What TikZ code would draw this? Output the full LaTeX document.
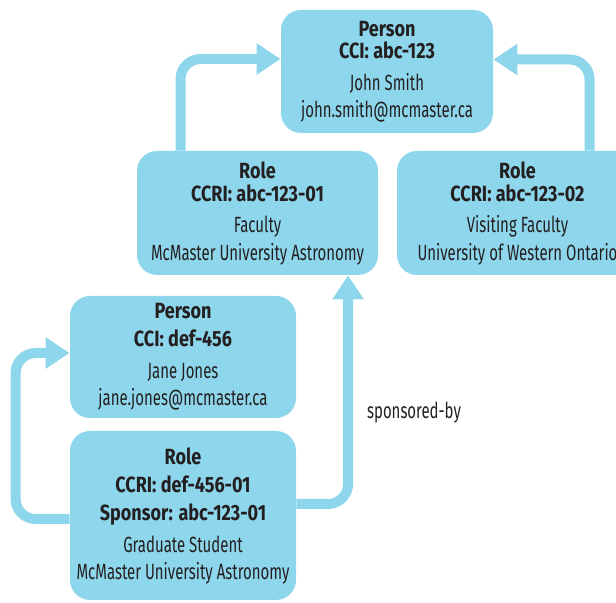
\documentclass[tikz,border=0pt]{standalone}
\usepackage{fontspec}
\setmainfont{Fira Sans}[UprightFeatures={FakeStretch=0.68},BoldFeatures={FakeStretch=0.82}]
\usepackage{tikz}
\usetikzlibrary{arrows.meta}
\definecolor{boxblue}{RGB}{142,214,235}
\definecolor{ink}{RGB}{35,31,32}

\tikzset{
  entity/.style={rectangle,rounded corners=10pt,fill=boxblue,text=ink,align=center,
    inner sep=0pt,font=\fontsize{11}{13.5}\selectfont},
  link/.style={line width=5pt,draw=boxblue,rounded corners=10pt,
    -{Triangle[width=15pt,length=12pt]}}
}

\begin{document}
\begin{tikzpicture}[x=0.5pt,y=-0.5pt]
  \useasboundingbox (0,0) rectangle (616,603);
  \clip (0,0) rectangle (616,603);
  % boxes
  \node[entity,minimum width=106pt,minimum height=61.5pt] (person1) at (387,71.5)
    {\textbf{Person}\\[-2.5pt]\textbf{CCI: abc-123}\\[2.5pt]John Smith\\john.smith@mcmaster.ca};
  \node[entity,minimum width=120.5pt,minimum height=62pt] (role1) at (257.5,213)
    {\textbf{Role}\\[-2pt]\textbf{CCRI: abc-123-01}\\[2.5pt]Faculty\\McMaster University Astronomy};
  \node[entity,minimum width=120.5pt,minimum height=62pt] (role2) at (517.5,213)
    {\textbf{Role}\\[-2pt]\textbf{CCRI: abc-123-02}\\[2.5pt]Visiting Faculty\\University of Western Ontario};
  \node[entity,minimum width=113pt,minimum height=61pt] (person2) at (183,357)
    {\textbf{Person}\\[0.5pt]\textbf{CCI: def-456}\\[2.5pt]Jane Jones\\jane.jones@mcmaster.ca};
  \node[entity,minimum width=113pt,minimum height=84.5pt] (role3) at (183,515.5)
    {\textbf{Role}\\[0.5pt]\textbf{CCRI: def-456-01}\\[0.5pt]\textbf{Sponsor: abc-123-01}\\[2.5pt]Graduate Student\\McMaster University Astronomy};
  \node[text=ink,font=\fontsize{11}{13.5}\selectfont] (sponsored) at (414,413) {sponsored-by};
  % links
  \draw[link] ([xshift=22pt]role1.north west) |- ([yshift=6.25pt]person1.west);
  \draw[link] ([xshift=96.5pt]role2.north west) |- ([yshift=6pt]person1.east);
  \draw[link] ([yshift=-1.75pt]role3.west) -| ([xshift=-27pt,yshift=2pt]person2.west) -- ([yshift=2pt]person2.west);
  \draw[link] ([yshift=5.75pt]role3.east) -| ([xshift=105.75pt]role1.south west);
\end{tikzpicture}
\end{document}
